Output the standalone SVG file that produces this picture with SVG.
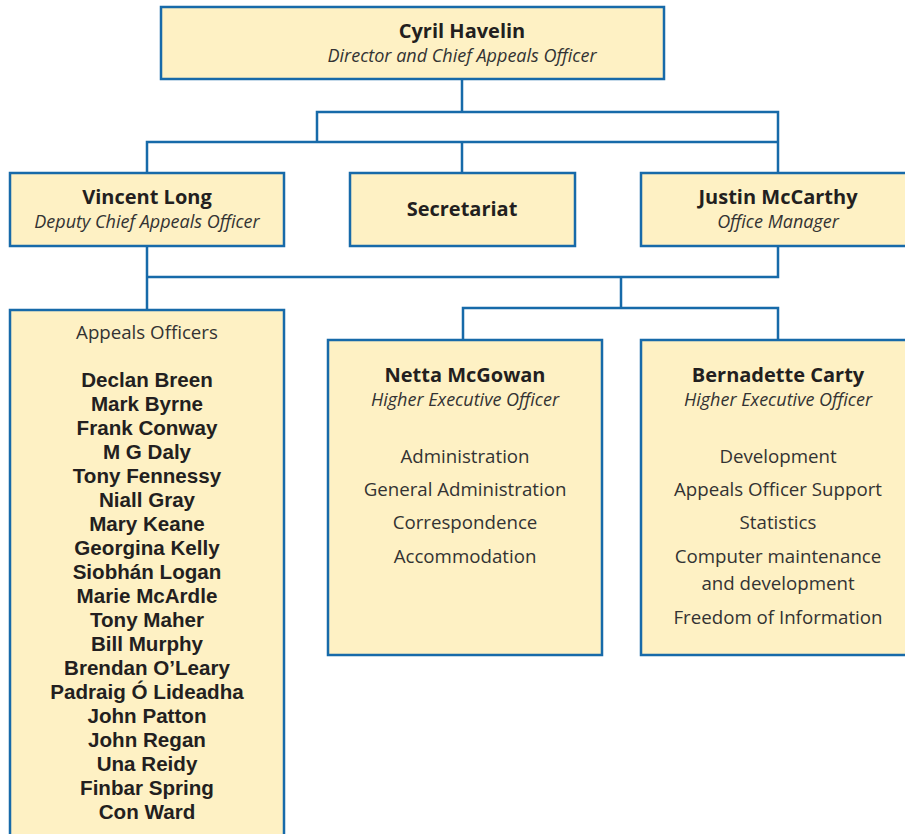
<svg xmlns="http://www.w3.org/2000/svg" width="905" height="834" viewBox="0 0 905 834">
<style>
.box{fill:#fef1c4;stroke:#176aa9;stroke-width:2.5}
.con{fill:none;stroke:#176aa9;stroke-width:2.5}
text{font-family:"Open Sans","Noto Sans","Liberation Sans",sans-serif;fill:#231f20;text-anchor:middle}
.b{font-weight:bold;font-size:20px}
.n{font-family:"Liberation Sans",Arial,sans-serif;font-weight:bold;font-size:20.6px}
.i{font-style:italic;font-size:18px;fill:#333}
.r{font-size:18.7px;fill:#333}
</style>
<rect width="905" height="834" fill="#fff"/>
<g id="connectors" class="con">
<path d="M462 79V112M317 142V112H778V173M147 173V142H778M462 142V173"/>
<path d="M147 246V310M778 246V277H147M621 277V308M463 340V308H778V340"/>
</g>
<g id="cyril"><rect class="box" x="161" y="7" width="503" height="72"/>
<text class="b" x="462" y="38">Cyril Havelin</text>
<text class="i" x="462" y="62">Director and Chief Appeals Officer</text></g>
<g id="vincent"><rect class="box" x="10" y="173" width="274" height="73"/>
<text class="b" x="147" y="204">Vincent Long</text>
<text class="i" x="147" y="228">Deputy Chief Appeals Officer</text></g>
<g id="secretariat"><rect class="box" x="350" y="173" width="225" height="73"/>
<text class="b" x="462" y="216">Secretariat</text></g>
<g id="justin"><rect class="box" x="641" y="173" width="280" height="73"/>
<text class="b" x="778" y="204">Justin McCarthy</text>
<text class="i" x="778" y="228">Office Manager</text></g>
<g id="appeals"><rect class="box" x="10" y="310" width="274" height="540"/>
<text class="r" x="147" y="339">Appeals Officers</text>
<text class="n" x="147" y="387">Declan Breen</text>
<text class="n" x="147" y="411">Mark Byrne</text>
<text class="n" x="147" y="435">Frank Conway</text>
<text class="n" x="147" y="459">M G Daly</text>
<text class="n" x="147" y="483">Tony Fennessy</text>
<text class="n" x="147" y="507">Niall Gray</text>
<text class="n" x="147" y="531">Mary Keane</text>
<text class="n" x="147" y="555">Georgina Kelly</text>
<text class="n" x="147" y="579">Siobhán Logan</text>
<text class="n" x="147" y="603">Marie McArdle</text>
<text class="n" x="147" y="627">Tony Maher</text>
<text class="n" x="147" y="651">Bill Murphy</text>
<text class="n" x="147" y="675">Brendan O’Leary</text>
<text class="n" x="147" y="699">Padraig Ó Lideadha</text>
<text class="n" x="147" y="723">John Patton</text>
<text class="n" x="147" y="747">John Regan</text>
<text class="n" x="147" y="771">Una Reidy</text>
<text class="n" x="147" y="795">Finbar Spring</text>
<text class="n" x="147" y="819">Con Ward</text></g>
<g id="netta"><rect class="box" x="328" y="340" width="274" height="315"/>
<text class="b" x="465" y="382">Netta McGowan</text>
<text class="i" x="465" y="406">Higher Executive Officer</text>
<text class="r" x="465" y="463">Administration</text>
<text class="r" x="465" y="496">General Administration</text>
<text class="r" x="465" y="529">Correspondence</text>
<text class="r" x="465" y="563">Accommodation</text></g>
<g id="bernadette"><rect class="box" x="641" y="340" width="280" height="315"/>
<text class="b" x="778" y="382">Bernadette Carty</text>
<text class="i" x="778" y="406">Higher Executive Officer</text>
<text class="r" x="778" y="463">Development</text>
<text class="r" x="778" y="496">Appeals Officer Support</text>
<text class="r" x="778" y="529">Statistics</text>
<text class="r" x="778" y="563">Computer maintenance</text>
<text class="r" x="778" y="590">and development</text>
<text class="r" x="778" y="624">Freedom of Information</text></g>
</svg>
